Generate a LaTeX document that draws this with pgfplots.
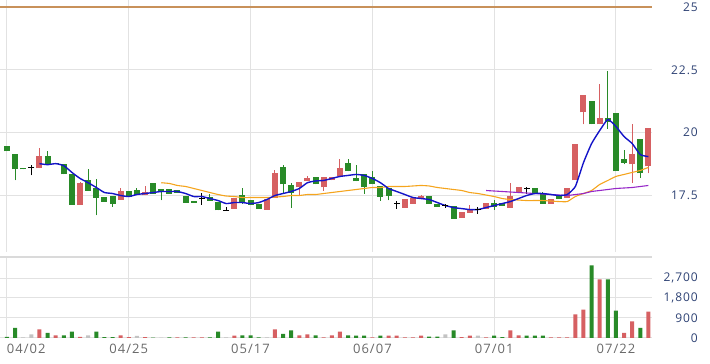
\documentclass[border=0pt]{standalone}
\usepackage{pgfplots}
\pgfplotsset{compat=1.18}
\usepackage{pgfplotstable}
\usepackage{fontspec}
\setmainfont{Open Sans}
\newfontfamily\labfont[LetterSpace=8]{Open Sans}
\definecolor{upred}{RGB}{214,96,98}
\definecolor{dngreen}{RGB}{40,138,40}
\definecolor{volgray}{RGB}{195,195,195}
\definecolor{mablue}{RGB}{20,20,200}
\definecolor{maorange}{RGB}{245,165,30}
\definecolor{mapurple}{RGB}{150,40,200}
\definecolor{limline}{RGB}{200,145,90}
\definecolor{gridc}{RGB}{226,226,226}
\definecolor{sepc}{RGB}{218,218,218}
\definecolor{ylab}{RGB}{45,65,115}
\definecolor{xlab}{RGB}{105,105,105}

\pgfplotstableread{
i o h l c
4 18.57 19.40 18.57 19.08
9 17.13 18.01 17.13 17.97
14 17.33 17.77 17.33 17.69
17 17.50 17.85 17.50 17.65
28 16.97 17.41 16.97 17.41
32 16.93 17.37 16.93 17.37
33 17.41 18.49 17.41 18.37
36 17.81 18.01 17.50 18.01
37 18.05 18.25 18.05 18.20
39 17.81 18.21 17.69 18.21
40 18.09 18.21 18.09 18.21
41 18.25 18.96 18.25 18.57
49 17.01 17.37 17.01 17.37
50 17.17 17.41 17.17 17.41
51 17.37 17.53 17.37 17.49
56 16.61 16.85 16.61 16.85
57 16.81 17.10 16.81 16.97
59 16.97 17.21 16.97 17.21
62 17.01 18.00 17.01 17.49
63 17.61 17.81 17.61 17.81
67 17.17 17.37 17.17 17.37
69 17.41 17.77 17.41 17.77
70 18.09 19.56 18.09 19.56
71 20.80 21.51 20.32 21.51
73 20.32 21.95 20.32 20.56
77 18.73 20.32 18.00 19.16
79 18.65 20.20 18.37 20.20
}\upT

\pgfplotstableread{
i o h l c
0 19.45 19.45 19.25 19.25
1 19.16 19.16 18.09 18.53
2 18.60 18.60 18.53 18.53
5 19.08 19.28 18.76 18.76
6 18.78 18.78 18.74 18.74
7 18.76 18.76 18.33 18.33
8 18.33 18.33 17.13 17.13
10 18.09 18.53 17.69 17.69
11 17.77 18.13 16.70 17.41
12 17.45 17.45 17.25 17.25
13 17.49 17.49 17.05 17.17
15 17.69 17.69 17.45 17.45
16 17.70 17.80 17.50 17.50
18 17.97 17.97 17.57 17.57
19 17.75 17.75 17.30 17.65
20 17.73 17.73 17.57 17.57
21 17.70 17.70 17.60 17.60
22 17.49 17.49 17.21 17.21
23 17.29 17.29 17.21 17.21
25 17.45 17.57 17.29 17.29
26 17.25 17.25 16.90 16.90
29 17.53 17.77 17.17 17.25
30 17.33 17.33 17.13 17.13
31 17.17 17.17 16.97 16.97
34 18.61 18.69 17.60 17.93
35 17.89 18.00 17.00 17.61
38 18.21 18.21 17.93 17.93
42 18.80 18.96 18.45 18.45
43 18.20 18.72 18.05 18.05
44 18.33 18.33 17.57 17.81
45 18.21 18.45 17.93 17.93
46 17.85 17.85 17.29 17.45
47 17.77 17.77 17.30 17.49
52 17.49 17.49 17.17 17.17
53 17.17 17.17 17.05 17.05
55 17.09 17.09 16.57 16.57
60 17.21 17.30 16.93 17.05
61 17.21 17.21 17.07 17.07
65 17.77 17.77 17.57 17.57
66 17.61 17.65 17.17 17.17
68 17.53 17.53 17.37 17.37
72 21.24 21.24 20.32 20.32
74 20.56 22.47 20.16 20.40
75 20.76 20.76 18.45 18.45
76 18.96 19.32 18.73 18.80
78 19.76 19.76 18.20 18.37
}\dnT

\pgfplotstableread{
i c h l
3 18.60 18.69 18.29
24 17.37 17.60 17.13
27 16.90 17.05 16.90
48 17.17 17.29 16.97
54 17.09 17.17 17.01
58 16.93 17.05 16.77
64 17.77 17.81 17.57
}\djT

\pgfplotstableread{
i v
4 18.76
5 18.72
6 18.76
7 18.68
8 18.41
9 18.17
10 18.00
11 17.81
12 17.61
13 17.57
14 17.49
15 17.45
16 17.53
17 17.57
18 17.61
19 17.65
20 17.65
21 17.65
22 17.57
23 17.45
24 17.45
25 17.37
26 17.29
27 17.17
28 17.21
29 17.21
30 17.17
31 17.21
32 17.33
33 17.49
34 17.57
35 17.65
36 17.77
37 18.00
38 18.07
39 18.09
40 18.17
41 18.25
42 18.29
43 18.33
44 18.29
45 18.17
46 18.00
47 17.77
48 17.65
49 17.53
50 17.41
51 17.37
52 17.33
53 17.21
54 17.09
55 17.01
56 16.97
57 16.93
58 16.93
59 17.01
60 17.09
61 17.17
62 17.25
63 17.37
64 17.49
65 17.57
66 17.57
67 17.53
68 17.49
69 17.53
70 17.85
71 18.80
72 19.56
73 20.08
74 20.52
75 20.24
76 19.84
77 19.56
78 19.12
79 19.04
}\maA

\pgfplotstableread{
i v
19 18.00
20 17.97
21 17.89
22 17.85
23 17.77
24 17.69
25 17.61
26 17.53
27 17.47
28 17.45
29 17.41
30 17.41
31 17.41
32 17.41
33 17.43
34 17.45
35 17.49
36 17.49
37 17.53
38 17.53
39 17.57
40 17.61
41 17.65
42 17.69
43 17.73
44 17.77
45 17.81
46 17.81
47 17.85
48 17.85
49 17.85
50 17.87
51 17.89
52 17.87
53 17.81
54 17.77
55 17.73
56 17.69
57 17.61
58 17.57
59 17.51
60 17.45
61 17.37
62 17.33
63 17.31
64 17.29
65 17.29
66 17.29
67 17.27
68 17.25
69 17.25
70 17.45
71 17.57
72 17.69
73 17.93
74 18.09
75 18.25
76 18.33
77 18.41
78 18.49
79 18.61
}\maB

\pgfplotstableread{
i v
59 17.69
60 17.67
61 17.65
62 17.63
63 17.61
64 17.59
65 17.57
66 17.55
67 17.53
68 17.51
69 17.49
70 17.53
71 17.57
72 17.65
73 17.69
74 17.73
75 17.77
76 17.79
77 17.81
78 17.85
79 17.89
}\maC

\pgfplotstableread{
i v
4 390
6 120
9 45
14 120
15 40
17 40
21 30
23 25
24 25
28 105
33 390
36 120
37 165
39 30
40 120
41 285
45 30
47 105
48 105
49 30
50 30
51 105
56 40
57 105
59 30
62 345
63 120
67 30
68 30
69 30
70 1065
71 1275
73 2640
76 225
77 750
79 1185
}\volR

\pgfplotstableread{
i v
0 50
1 450
5 225
7 120
8 285
11 285
12 40
13 40
18 20
20 30
22 30
25 30
26 285
29 120
30 120
31 30
34 180
35 345
38 120
42 120
43 105
44 105
46 105
52 60
53 60
55 345
60 105
61 40
64 105
65 105
66 105
72 3270
74 2640
75 1230
78 450
}\volG

\pgfplotstableread{
i v
2 30
3 165
10 120
16 90
19 20
27 30
32 30
54 165
58 105
}\volN

\pgfplotstableread{
i v
-0.86 25
79.44 25
}\limT

\pgfplotsset{
  common/.style={
    anchor=south west, width=652pt, scale only axis,
    xmin=-0.86, xmax=79.44,
    axis line style={draw=none}, tick style={draw=none},
    major tick length=0pt,
    xtick={0,15,30,45,60,75},
    xmajorgrids, ymajorgrids,
    grid style={draw=gridc, line width=1pt},
    yticklabel pos=right,
    yticklabel style={anchor=east, xshift=46pt, inner sep=0pt,
      font=\labfont\fontsize{12}{12}\selectfont, text=ylab},
    /pgf/number format/assume math mode=true,
    clip=false,
  },
  wick/.style={draw=none, mark=none, forget plot,
    error bars/.cd, y dir=plus, y explicit, error mark=none,
    error bar style={draw=#1, solid, line width=1pt}},
  body/.style={draw=none, mark=none, forget plot,
    error bars/.cd, y dir=plus, y explicit, error mark=none,
    error bar style={draw=#1, solid, line width=6pt, line cap=butt}},
}

\begin{document}
\begin{tikzpicture}
\begin{axis}[common,
  at={(0pt,112pt)}, height=252pt,
  ymin=15.24, ymax=25.28,
  ytick={17.5,20,22.5,25}, yticklabels={17.5,20,22.5,25},
  xticklabels={},
]
\addplot[draw=limline, line width=1.2pt, forget plot] table[x=i,y=v]{\limT};
% wicks
\addplot[wick=upred] table[x=i, y=l, y error plus expr=\thisrow{h}-\thisrow{l}]{\upT};
\addplot[wick=dngreen] table[x=i, y=l, y error plus expr=\thisrow{h}-\thisrow{l}]{\dnT};
\addplot[wick=black] table[x=i, y=l, y error plus expr=\thisrow{h}-\thisrow{l}]{\djT};
% bodies
\addplot[body=upred] table[x=i, y=o, y error plus expr=\thisrow{c}-\thisrow{o}]{\upT};
\addplot[body=dngreen] table[x=i, y=c, y error plus expr=\thisrow{o}-\thisrow{c}]{\dnT};
\addplot[only marks, mark=-, mark size=3pt, mark options={draw=black, line width=1.2pt}, forget plot] table[x=i, y=c]{\djT};
% moving averages
\addplot[draw=maorange, line width=1.1pt, smooth, tension=0.3, mark=none] table[x=i,y=v]{\maB};
\addplot[draw=mapurple, line width=1.1pt, smooth, tension=0.3, mark=none] table[x=i,y=v]{\maC};
\addplot[draw=mablue, line width=1.4pt, smooth, tension=0.3, mark=none] table[x=i,y=v]{\maA};
\end{axis}

\begin{axis}[common,
  at={(0pt,26pt)}, height=80pt,
  ymin=0, ymax=3600,
  ytick={0,900,1800,2700}, yticklabels={0,900,{1,800},{2,700}},
  xticklabels={\makebox[0pt][l]{04/02},04/25,05/17,06/07,07/01,07/22},
  xticklabel style={anchor=north, yshift=-6pt, inner sep=0pt,
    font=\labfont\fontsize{13}{13}\selectfont, text=xlab},
]
\addplot[ybar, bar width=4pt, bar shift=0pt, fill=upred, draw=none] table[x=i,y=v]{\volR};
\addplot[ybar, bar width=4pt, bar shift=0pt, fill=dngreen, draw=none] table[x=i,y=v]{\volG};
\addplot[ybar, bar width=4pt, bar shift=0pt, fill=volgray, draw=none] table[x=i,y=v]{\volN};
\draw[sepc, line width=2pt] ([yshift=1.5pt]rel axis cs:0,1) -- ([yshift=1.5pt]rel axis cs:1,1);
\end{axis}
\pgfresetboundingbox
\useasboundingbox (0,0) rectangle (710pt,364pt);
\end{tikzpicture}
\end{document}
